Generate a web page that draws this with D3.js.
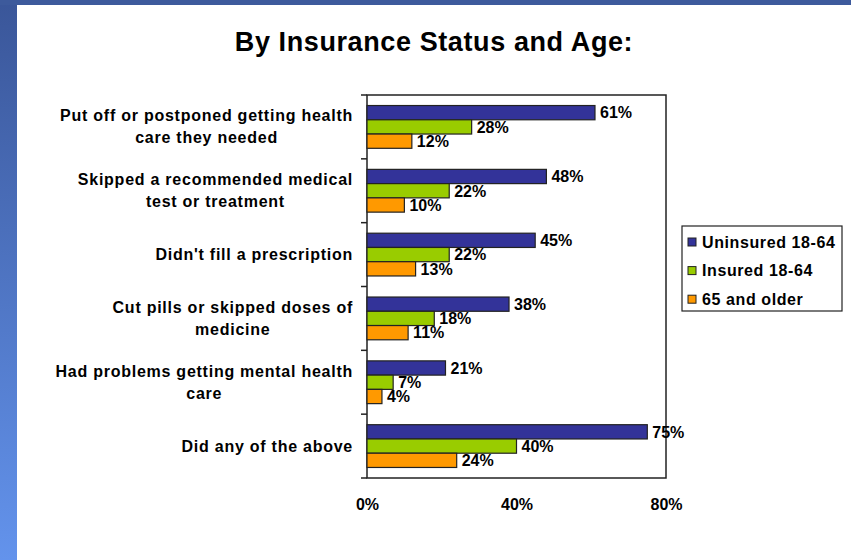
<!DOCTYPE html>
<html><head><meta charset="utf-8">
<script src="https://cdn.jsdelivr.net/npm/d3@7"></script>
<style>
html,body{margin:0;padding:0;background:#fff;}
svg{display:block;}
text{font-family:"Liberation Sans",Arial,sans-serif;font-weight:bold;fill:#000;}
</style></head>
<body>
<svg id="c" width="851" height="560"></svg>
<script>
const categories = [
  ["Put off or postponed getting health", "care they needed"],
  ["Skipped a recommended medical", "test or treatment"],
  ["Didn't fill a prescription"],
  ["Cut pills or skipped doses of", "medicine"],
  ["Had problems getting mental health", "care"],
  ["Did any of the above"]
];
const seriesNames = ["Uninsured 18-64", "Insured 18-64", "65 and older"];
const uninsured = [61, 48, 45, 38, 21, 75];
const insured = [28, 22, 22, 18, 7, 40];
const older = [12, 10, 13, 11, 4, 24];
const xTicks = [0, 40, 80];
const colors = ["#333399", "#99CC00", "#FF9900"];
const title = "By Insurance Status and Age:";

const series = [uninsured, insured, older];
const svg = d3.select("#c");

// background frame
const defs = svg.append("defs");
const g1 = defs.append("linearGradient").attr("id","lg").attr("x1",0).attr("y1",0).attr("x2",0).attr("y2",1);
g1.append("stop").attr("offset","0%").attr("stop-color","#3a5699");
g1.append("stop").attr("offset","100%").attr("stop-color","#6393ec");
svg.append("rect").attr("x",0).attr("y",0).attr("width",851).attr("height",560).attr("fill","#fff");
svg.append("rect").attr("x",0).attr("y",0).attr("width",17).attr("height",560).attr("fill","url(#lg)");
svg.append("rect").attr("x",0).attr("y",0).attr("width",851).attr("height",5).attr("fill","#3d5a9c");

const L = 367, R = 666, T = 95, B = 478;
const x = d3.scaleLinear().domain([0, 80]).range([L, R]);
const idx = d3.range(categories.length);
const y = d3.scaleBand().domain(idx).range([T, B]);
const bw = y.bandwidth();
const pad = bw * 0.165;
const ys = d3.scaleBand().domain(d3.range(series.length)).range([pad, bw - pad]);

// title
svg.append("text").attr("x", 434).attr("y", 51).attr("text-anchor","middle")
  .style("font-size","27px").style("letter-spacing","0.6px").text(title);

// plot frame
svg.append("rect").attr("x",L).attr("y",T).attr("width",R-L).attr("height",B-T)
  .attr("fill","none").attr("stroke","#222").attr("stroke-width",1.5);

// y axis ticks
svg.append("g").selectAll("line").data(d3.range(categories.length + 1)).join("line")
  .attr("x1", L - 6).attr("x2", L)
  .attr("y1", d => T + d * bw).attr("y2", d => T + d * bw)
  .attr("stroke","#222").attr("stroke-width",1.5);

// category labels
const labG = svg.append("g");
const labFont = "16px", labSp = "0.75px";
categories.forEach((lines, i) => {
  const cy = y(i) + bw / 2;
  const lh = 22;
  const t = labG.append("text").attr("text-anchor","middle").style("font-size",labFont).style("letter-spacing",labSp);
  const widths = lines.map(s => {
    const tt = labG.append("text").style("font-size",labFont).style("letter-spacing",labSp).text(s);
    const w = tt.node().getComputedTextLength(); tt.remove(); return w;
  });
  const maxW = d3.max(widths);
  const cx = 353 - maxW / 2;
  lines.forEach((s, j) => {
    t.append("tspan").attr("x", cx).attr("y", cy + (j - (lines.length - 1) / 2) * lh + 5.5).text(s);
  });
});

// bars
series.forEach((vals, si) => {
  const g = svg.append("g");
  g.selectAll("rect").data(vals).join("rect")
    .attr("x", x(0))
    .attr("y", (d, i) => y(i) + ys(si))
    .attr("width", d => x(d) - x(0))
    .attr("height", ys.bandwidth())
    .attr("fill", colors[si]).attr("stroke","#222").attr("stroke-width",1.2);
  g.selectAll("text").data(vals).join("text")
    .attr("x", d => x(d) + 5)
    .attr("y", (d, i) => y(i) + ys(si) + ys.bandwidth() / 2 + 5.8)
    .style("font-size","16px")
    .text(d => d + "%");
});

// x axis labels
const xAxis = d3.axisBottom(x).tickValues(xTicks).tickSize(0).tickFormat(d => d + "%");
const xg = svg.append("g").attr("transform",`translate(0,${B})`).call(xAxis);
xg.select(".domain").remove();
xg.selectAll("text").attr("dy", null).attr("y", 32).style("font-size","16px")
  .style("font-family",'"Liberation Sans",Arial,sans-serif').style("font-weight","bold").attr("fill","#000");

// legend
const lg = svg.append("g");
lg.append("rect").attr("x",682).attr("y",226).attr("width",160).attr("height",85)
  .attr("fill","#fff").attr("stroke","#222").attr("stroke-width",1.2);
seriesNames.forEach((n, i) => {
  const cy = 242 + i * 28.6;
  lg.append("rect").attr("x",688).attr("y",cy - 4).attr("width",8).attr("height",8)
    .attr("fill",colors[i]).attr("stroke","#222").attr("stroke-width",1);
  lg.append("text").attr("x",702).attr("y",cy + 5.8).style("font-size","16px").style("letter-spacing","0.6px").text(n);
});
</script>
</body></html>
